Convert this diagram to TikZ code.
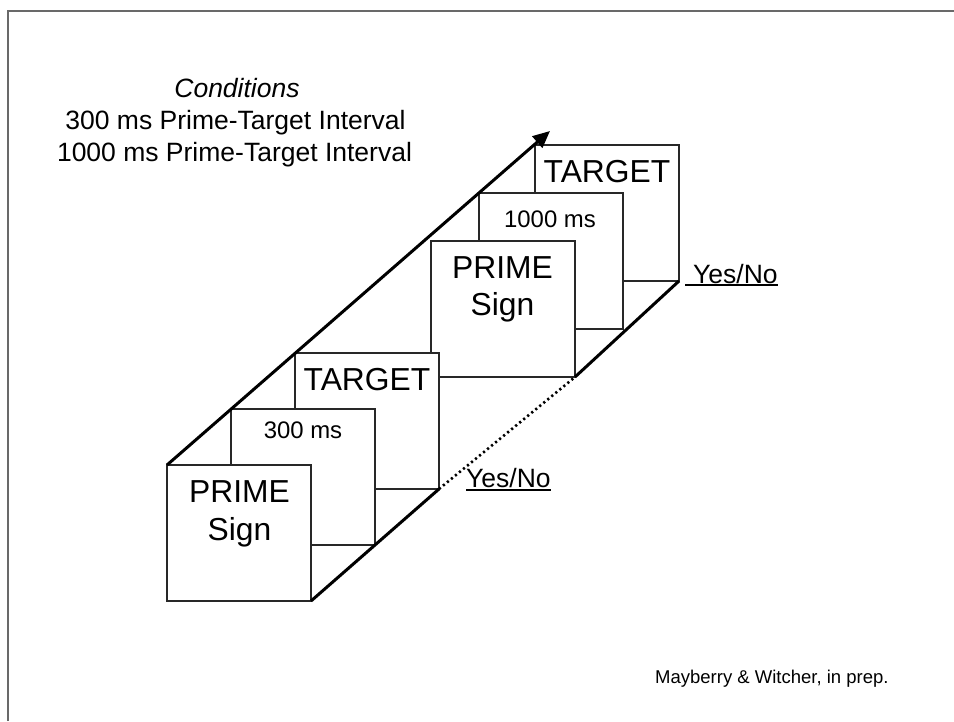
\documentclass[tikz,border=0pt]{standalone}
\usepackage{fontspec}
\setmainfont{Liberation Sans}
\usetikzlibrary{arrows.meta}
\definecolor{boxline}{RGB}{40,40,40}
\definecolor{frameline}{RGB}{105,105,105}
\tikzset{
  slide/.style={rectangle, draw=boxline, line width=1.5pt, fill=white,
    minimum width=144pt, minimum height=136pt, inner sep=0pt, outer sep=0pt,
    anchor=north west},
  bigtext/.style={font=\fontsize{31.8}{38}\selectfont, inner sep=0pt, anchor=base},
  medtext/.style={font=\fontsize{23.9}{28}\selectfont, inner sep=0pt, anchor=base},
  condtext/.style={font=\fontsize{26.5}{32}\selectfont, inner sep=0pt, anchor=base},
  credtext/.style={font=\fontsize{18.5}{22}\selectfont, inner sep=0pt, anchor=base west},
  heavyline/.style={line width=3pt, draw=black},
  dotline/.style={line width=2.6pt, draw=black, dash pattern=on 2.2pt off 3pt},
  uline/.style={line width=1.3pt, draw=black},
  pageframe/.style={line width=2pt, draw=frameline}
}
\begin{document}
\begin{tikzpicture}[x=1pt,y=-1pt]
\path[use as bounding box, fill=white] (0,0) rectangle (954,721);
\draw[pageframe] (7.7,721) -- (7.7,10.7) -- (954,10.7);

% second trial (back)
\node[slide] (t2) at (535,145) {};
\node[bigtext] (t2txt) at (607,182) {TARGET};
\node[slide] (d2) at (479,193) {};
\node[medtext] (d2txt) at (550,227) {1000 ms};
\node[slide] (p2) at (431,241) {};
\node[bigtext] (p2a) at (502.5,278) {PRIME};
\node[bigtext] (p2b) at (502.5,315) {Sign};

% first trial (front)
\node[slide] (t1) at (295,353) {};
\node[bigtext] (t1txt) at (367,390) {TARGET};
\node[slide] (d1) at (231,409) {};
\node[medtext] (d1txt) at (303,438) {300 ms};
\node[slide] (p1) at (167,465) {};
\node[bigtext] (p1a) at (239.5,502) {PRIME};
\node[bigtext] (p1b) at (239.5,540) {Sign};

% time axis and base lines
\coordinate (tip) at (550,131);
\draw[heavyline, -{Triangle[length=17pt,width=15pt]}] (p1.north west) -- (tip);
\draw[heavyline] (p1.south east) -- (t1.south east);
\draw[dotline] (t1.south east) -- (p2.south east);
\draw[heavyline] (p2.south east) -- (t2.south east);

% responses
\node[condtext, anchor=base west] (yn1) at (466,487) {Yes/No};
\draw[uline] ([yshift=-3pt]yn1.base west) -- ([yshift=-3pt]yn1.base east);
\node[condtext, anchor=base west] (yn2) at (693,283) {Yes/No};
\draw[uline] ([xshift=-8pt,yshift=-2pt]yn2.base west) -- ([yshift=-2pt]yn2.base east);

% conditions
\node[condtext, font=\fontsize{26.5}{32}\selectfont\itshape] (c0) at (237,97) {Conditions};
\node[condtext] (c1) at (235.5,129) {300 ms Prime-Target Interval};
\node[condtext] (c2) at (234.5,161) {1000 ms Prime-Target Interval};

% credit
\node[credtext] (cred) at (655,683) {Mayberry \& Witcher, in prep.};
\end{tikzpicture}
\end{document}
